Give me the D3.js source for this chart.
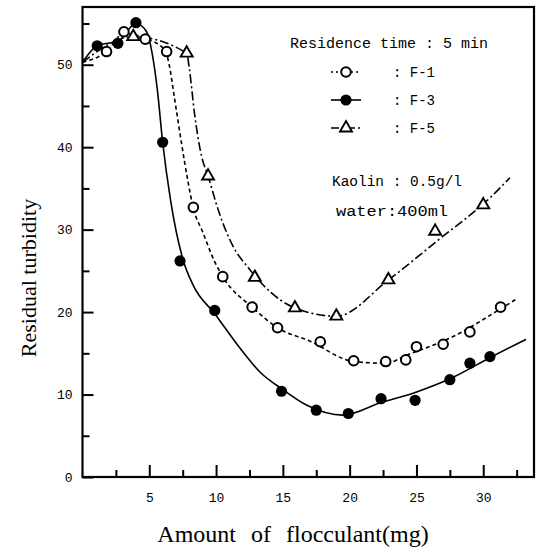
<!DOCTYPE html>
<html>
<head>
<meta charset="utf-8">
<script src="https://cdn.jsdelivr.net/npm/d3@7"></script>
<style>
  html, body { margin: 0; padding: 0; background: #fff; }
  svg { display: block; }
</style>
</head>
<body>
<svg id="chart" width="539" height="551"></svg>
<script>
// ---- Data ----
// Measured points
const f1X = [1.8, 3.1, 4.7, 6.3, 8.3, 10.5, 12.7, 14.6, 17.8, 20.3, 22.7, 24.2, 25.0, 27.0, 29.0, 31.3];
const f1Y = [51.6, 54.0, 53.1, 51.6, 32.7, 24.3, 20.6, 18.1, 16.4, 14.1, 14.0, 14.2, 15.8, 16.1, 17.6, 20.6];

const f3X = [1.1, 2.65, 4.0, 6.0, 7.3, 9.9, 14.9, 17.5, 19.9, 22.35, 24.9, 27.5, 29.0, 30.5];
const f3Y = [52.3, 52.6, 55.1, 40.6, 26.2, 20.2, 10.4, 8.1, 7.7, 9.5, 9.3, 11.8, 13.8, 14.6];

const f5X = [3.8, 7.8, 9.4, 12.9, 15.9, 19.0, 22.9, 26.4, 30.0];
const f5Y = [53.4, 51.4, 36.5, 24.2, 20.5, 19.5, 23.9, 29.8, 33.0];

// Hand-drawn fitted curves
const c1X = [0, 1.8, 3.1, 4.7, 6.2, 6.5, 6.9, 7.4, 7.9, 8.3, 9.0, 9.9, 10.5, 12.7, 14.6, 17.0, 20.3, 22.7, 24.3, 27.7, 31.3, 32.4];
const c1Y = [50.3, 51.6, 53.8, 53.2, 51.7, 49.9, 45.8, 40.6, 35.8, 32.6, 29.7, 26.1, 24.3, 20.6, 18.1, 16.5, 14.0, 13.8, 14.8, 17.0, 20.4, 21.5];

const c3X = [0, 1.1, 2.7, 4.0, 4.8, 5.2, 5.6, 6.0, 6.6, 7.5, 8.3, 9.9, 11.8, 13.3, 15.0, 16.8, 19.5, 22.3, 24.8, 27.75, 30.7, 33.2];
const c3Y = [50.3, 52.3, 52.9, 55.0, 54.0, 51.5, 47.0, 40.6, 33.5, 26.5, 23.2, 19.8, 15.6, 12.7, 10.6, 8.7, 7.5, 9.0, 10.2, 12.1, 14.65, 16.7];

const c5X = [0, 3.8, 7.8, 8.0, 8.4, 8.9, 9.4, 10.2, 11.2, 12.5, 15.7, 19.0, 22.9, 26.6, 30.6, 32.0];
const c5Y = [50.3, 53.4, 51.4, 49.5, 43.9, 39.0, 36.5, 32.2, 28.2, 25.2, 20.65, 19.5, 23.9, 28.7, 34.0, 36.3];

// Ticks and labels
const xMajor = [5, 10, 15, 20, 25, 30];
const xMinor = [2.5, 7.5, 12.5, 17.5, 22.5, 27.5, 32.5];
const yMajor = [0, 10, 20, 30, 40, 50];
const yMinor = [5, 15, 25, 35, 45, 55];

const xTitle = "Amount of flocculant(mg)";
const yTitle = "Residual turbidity";
const legendTitle = "Residence time : 5 min";
const seriesNames = ["F-1", "F-3", "F-5"];
const note1 = "Kaolin : 0.5g/l";
const note2 = "water:400ml";

// ---- Drawing ----
const svg = d3.select("#chart");
const x = d3.scaleLinear().domain([0, 33.8]).range([82.5, 534]);
const y = d3.scaleLinear().domain([0, 57]).range([477, 7]);

const tickFont = "'Liberation Mono', 'DejaVu Sans Mono', monospace";
const typeFont = "'Liberation Mono', 'DejaVu Sans Mono', monospace";
const serif = "'Liberation Serif', 'DejaVu Serif', serif";

// Axes (ticks pointing inward)
const gxMaj = svg.append("g").attr("transform", `translate(0,${y(0)})`)
  .call(d3.axisBottom(x).tickValues(xMajor).tickSize(-12).tickPadding(16).tickFormat(d3.format("d")));
const gxMin = svg.append("g").attr("transform", `translate(0,${y(0)})`)
  .call(d3.axisBottom(x).tickValues(xMinor).tickSize(-7).tickFormat(""));
const gyMaj = svg.append("g").attr("transform", `translate(${x(0)},0)`)
  .call(d3.axisLeft(y).tickValues(yMajor).tickSize(-11).tickPadding(10).tickFormat(d3.format("d")));
const gyMin = svg.append("g").attr("transform", `translate(${x(0)},0)`)
  .call(d3.axisLeft(y).tickValues(yMinor).tickSize(-7).tickFormat(""));

[gxMaj, gxMin, gyMaj, gyMin].forEach(g => {
  g.select(".domain").remove();
  g.selectAll(".tick line").attr("stroke", "#000").attr("stroke-width", 2);
  g.selectAll("text").attr("font-family", tickFont).attr("font-size", 13).attr("fill", "#000");
});

// Frame
svg.append("rect")
  .attr("x", x(0)).attr("y", y(57))
  .attr("width", x(33.8) - x(0)).attr("height", y(0) - y(57))
  .attr("fill", "none").attr("stroke", "#000").attr("stroke-width", 2.2);

// Titles
svg.append("text")
  .attr("x", 293).attr("y", 542)
  .attr("text-anchor", "middle")
  .attr("font-family", serif).attr("font-size", 24)
  .attr("word-spacing", 9)
  .text(xTitle);

svg.append("text")
  .attr("transform", `translate(36,278) rotate(-90)`)
  .attr("text-anchor", "middle")
  .attr("font-family", serif).attr("font-size", 22)
  .text(yTitle);

// Curves
const line = d3.line().x(d => x(d[0])).y(d => y(d[1])).curve(d3.curveMonotoneX);
const zip = (a, b) => a.map((v, i) => [v, b[i]]);

const styles = [
  { dash: "4,3", curveX: c1X, curveY: c1Y, px: f1X, py: f1Y, marker: "open" },
  { dash: null, curveX: c3X, curveY: c3Y, px: f3X, py: f3Y, marker: "filled" },
  { dash: "9,3,2,3", curveX: c5X, curveY: c5Y, px: f5X, py: f5Y, marker: "tri" }
];

styles.forEach(s => {
  svg.append("path")
    .datum(zip(s.curveX, s.curveY))
    .attr("d", line)
    .attr("fill", "none").attr("stroke", "#000").attr("stroke-width", 1.6)
    .attr("stroke-dasharray", s.dash);
});

function drawMarker(g, kind, cx, cy) {
  if (kind === "open") {
    g.append("circle").attr("cx", cx).attr("cy", cy).attr("r", 4.8)
      .attr("fill", "#fff").attr("stroke", "#000").attr("stroke-width", 2);
  } else if (kind === "filled") {
    g.append("circle").attr("cx", cx).attr("cy", cy).attr("r", 5.6).attr("fill", "#000");
  } else {
    g.append("path").attr("d", d3.symbol(d3.symbolTriangle, 62)())
      .attr("transform", `translate(${cx},${cy})`)
      .attr("fill", "#fff").attr("stroke", "#000").attr("stroke-width", 1.9);
  }
}

styles.forEach(s => {
  const g = svg.append("g");
  s.px.forEach((v, i) => drawMarker(g, s.marker, x(v), y(s.py[i])));
});

// Legend / annotations
const leg = svg.append("g");
leg.append("text").attr("x", 290).attr("y", 48)
  .attr("font-family", typeFont).attr("font-size", 14)
  .attr("textLength", 198).attr("lengthAdjust", "spacingAndGlyphs")
  .text(legendTitle);

const rowY = [72, 100, 128];
const legDash = ["2,3", null, "8,3,2,3"];
const legMarker = ["open", "filled", "tri"];
rowY.forEach((ry, i) => {
  leg.append("line").attr("x1", 331).attr("x2", 361).attr("y1", ry).attr("y2", ry)
    .attr("stroke", "#000").attr("stroke-width", 1.6).attr("stroke-dasharray", legDash[i]);
  drawMarker(leg, legMarker[i], 346, ry);
  leg.append("text").attr("x", 393).attr("y", ry + 5)
    .attr("font-family", typeFont).attr("font-size", 14)
    .text(": " + seriesNames[i]);
});

leg.append("text").attr("x", 332).attr("y", 186)
  .attr("font-family", typeFont).attr("font-size", 14)
  .attr("textLength", 130).attr("lengthAdjust", "spacingAndGlyphs")
  .text(note1);
leg.append("text").attr("x", 336).attr("y", 216)
  .attr("font-family", typeFont).attr("font-size", 14)
  .attr("textLength", 112).attr("lengthAdjust", "spacingAndGlyphs")
  .text(note2);
</script>
</body>
</html>
